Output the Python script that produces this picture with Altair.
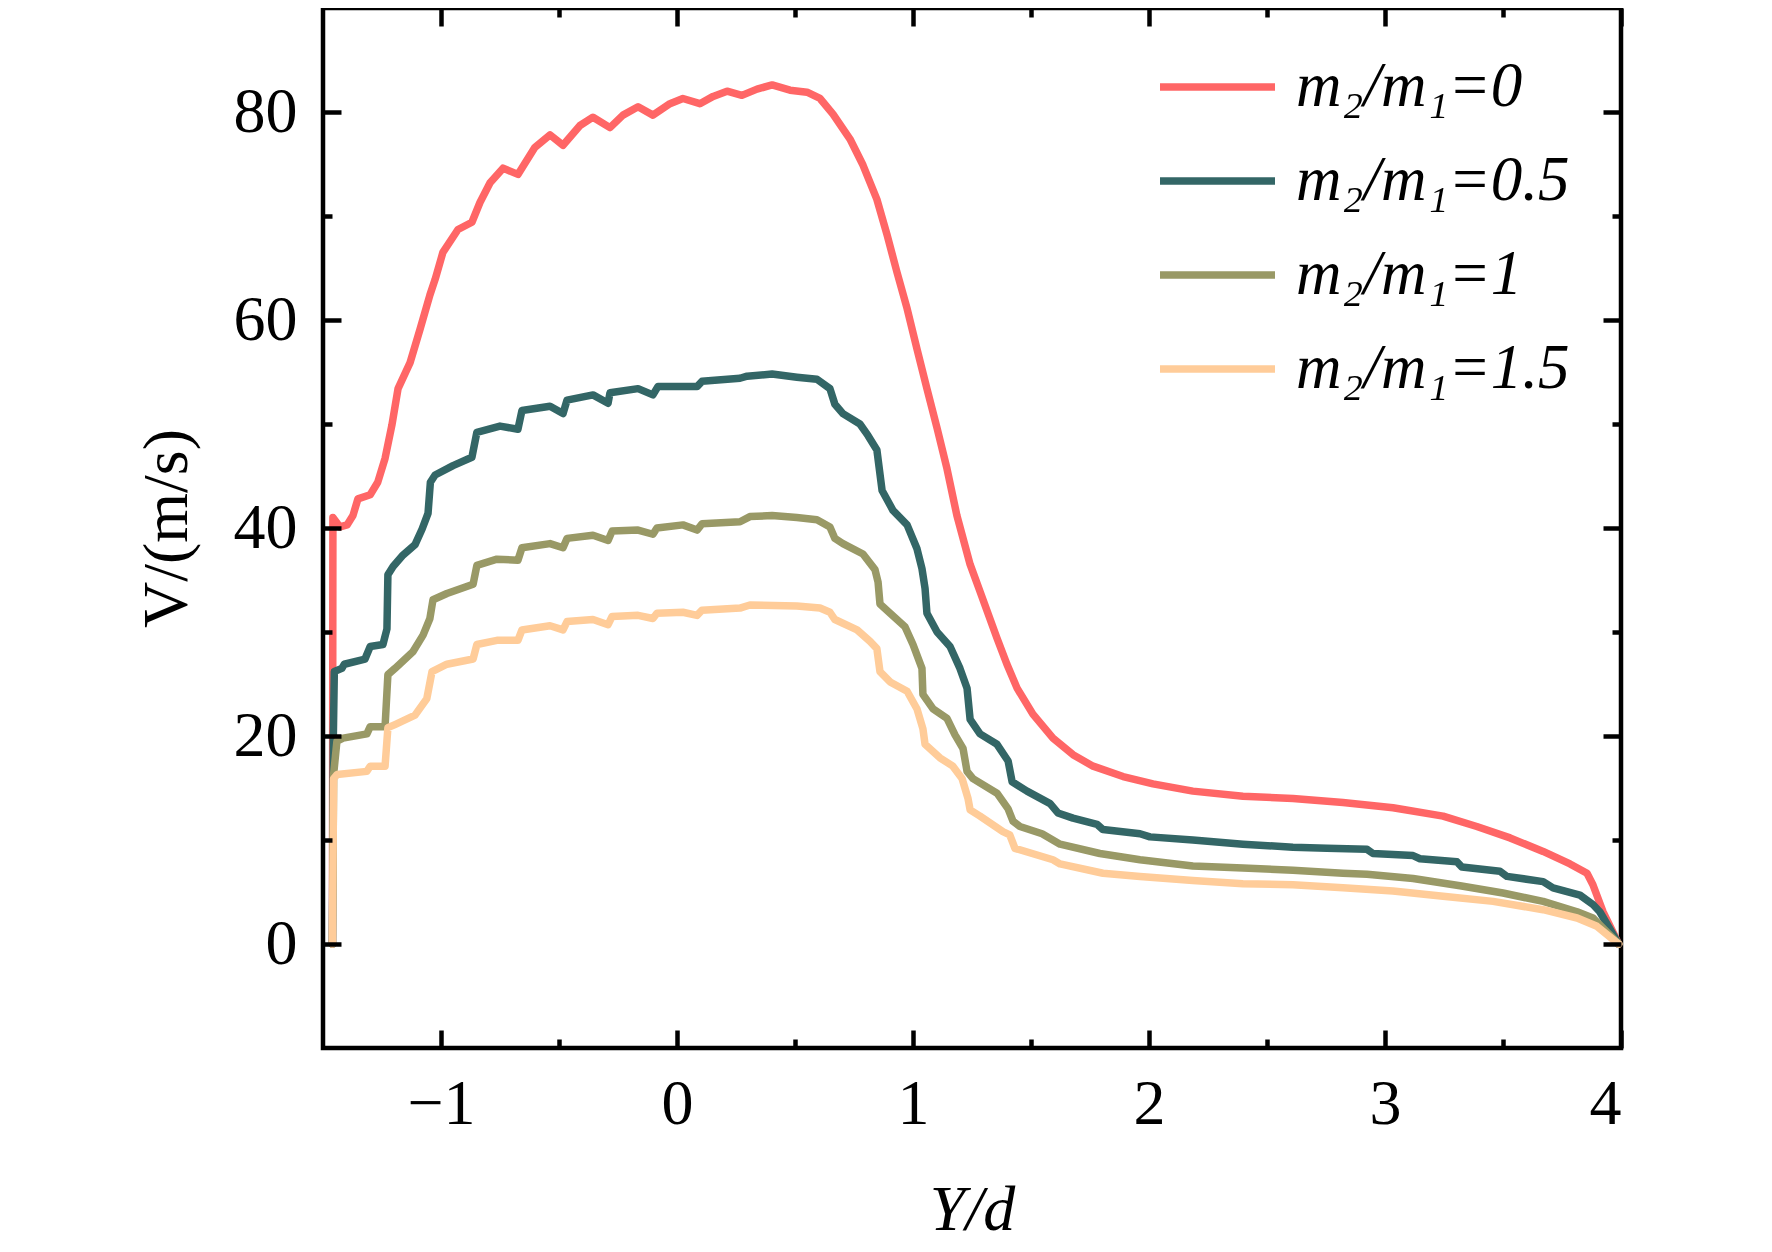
import altair as alt
import pandas as pd

series_names = ["m₂/m₁=0", "m₂/m₁=0.5", "m₂/m₁=1", "m₂/m₁=1.5"]
series_colors = ["#FF6666", "#336666", "#999966", "#FFCC99"]

red_x = [-1.46, -1.458, -1.428, -1.398, -1.373, -1.352, -1.30, -1.268, -1.237, -1.208, -1.182, -1.131, -1.089,
         -1.047, -1.025, -0.992, -0.928, -0.869, -0.835, -0.792, -0.737, -0.674, -0.602, -0.538, -0.483, -0.411,
         -0.356, -0.284, -0.229, -0.165, -0.102, -0.030, 0.025, 0.097, 0.153, 0.212, 0.275, 0.339, 0.403, 0.479,
         0.551, 0.606, 0.661, 0.733, 0.788, 0.847, 0.890, 0.932, 0.975, 1.017, 1.059, 1.102, 1.144, 1.186, 1.242,
         1.284, 1.356, 1.398, 1.441, 1.508, 1.593, 1.678, 1.763, 1.89, 2.017, 2.186, 2.398, 2.61, 2.822, 3.034,
         3.246, 3.389, 3.53, 3.67, 3.784, 3.856, 3.881, 3.924, 3.99]
red_y = [0.0, 41.0, 40.1, 40.3, 41.2, 42.8, 43.2, 44.4, 46.7, 49.9, 53.4, 55.9, 59.1,
         62.4, 63.9, 66.5, 68.7, 69.4, 71.3, 73.2, 74.6, 74.0, 76.6, 77.8, 76.8, 78.7,
         79.5, 78.5, 79.7, 80.5, 79.7, 80.8, 81.3, 80.8, 81.5, 82.0, 81.6, 82.2, 82.6, 82.1,
         81.9, 81.3, 79.8, 77.4, 74.9, 71.6, 68.2, 64.6, 61.1, 57.2, 53.4, 49.6, 45.7, 41.2, 36.5,
         33.9, 29.4, 26.9, 24.6, 22.1, 19.8, 18.2, 17.1, 16.1, 15.4, 14.7, 14.2, 14.0, 13.6, 13.1,
         12.3, 11.3, 10.2, 8.9, 7.7, 6.8, 5.7, 3.1, 0.0]

teal_x = [-1.46, -1.456, -1.452, -1.42, -1.41, -1.322, -1.30, -1.246, -1.229, -1.225, -1.203, -1.161, -1.11,
          -1.08, -1.055, -1.045, -1.025, -0.949, -0.869, -0.848, -0.750, -0.674, -0.657, -0.538, -0.483, -0.466,
          -0.356, -0.292, -0.284, -0.165, -0.102, -0.081, 0.085, 0.106, 0.267, 0.297, 0.403, 0.508, 0.593, 0.648,
          0.669, 0.703, 0.775, 0.809, 0.847, 0.869, 0.915, 0.975, 1.017, 1.038, 1.051, 1.059, 1.102, 1.157, 1.199,
          1.229, 1.242, 1.284, 1.356, 1.403, 1.42, 1.483, 1.581, 1.614, 1.678, 1.78, 1.805, 1.962, 2.004, 2.186,
          2.398, 2.61, 2.754, 2.924, 2.949, 3.119, 3.148, 3.305, 3.326, 3.487, 3.517, 3.67, 3.712, 3.826, 3.881,
          3.91, 3.99]
teal_y = [0.0, 20.2, 26.2, 26.5, 26.9, 27.4, 28.6, 28.8, 30.3, 35.5, 36.3, 37.4, 38.4,
          39.9, 41.4, 44.4, 45.1, 46.0, 46.8, 49.2, 49.8, 49.5, 51.3, 51.7, 51.0, 52.3,
          52.8, 52.0, 53.0, 53.4, 52.8, 53.6, 53.6, 54.1, 54.4, 54.6, 54.8, 54.5, 54.3, 53.4,
          51.9, 51.0, 50.0, 48.9, 47.5, 43.6, 41.7, 40.3, 38.0, 36.1, 34.2, 31.8, 30.0, 28.6, 26.5,
          24.6, 21.6, 20.2, 19.2, 17.6, 15.6, 14.7, 13.5, 12.6, 12.1, 11.5, 11.0, 10.6, 10.3, 10.0,
          9.6, 9.3, 9.2, 9.1, 8.7, 8.5, 8.2, 7.9, 7.4, 7.0, 6.5, 6.0, 5.4, 4.7, 3.8,
          3.1, 0.0]

olive_x = [-1.46, -1.455, -1.441, -1.415, -1.314, -1.30, -1.237, -1.225, -1.195, -1.119, -1.076, -1.047, -1.034,
           -0.975, -0.864, -0.848, -0.763, -0.674, -0.657, -0.538, -0.483, -0.466, -0.356, -0.292, -0.275, -0.165,
           -0.102, -0.085, 0.025, 0.085, 0.106, 0.267, 0.309, 0.403, 0.508, 0.593, 0.648, 0.669, 0.703, 0.788,
           0.839, 0.852, 0.86, 0.903, 0.966, 1.0, 1.038, 1.042, 1.085, 1.144, 1.178, 1.212, 1.229, 1.254, 1.356,
           1.403, 1.424, 1.453, 1.547, 1.623, 1.792, 1.962, 2.186, 2.398, 2.61, 2.822, 2.924, 3.119, 3.318, 3.5,
           3.67, 3.814, 3.881, 3.99]
olive_y = [0.0, 16.3, 19.5, 19.8, 20.2, 20.9, 20.9, 25.9, 26.5, 28.1, 29.7, 31.3, 33.1,
           33.7, 34.6, 36.4, 37.0, 36.9, 38.1, 38.5, 38.1, 39.0, 39.3, 38.8, 39.7, 39.8,
           39.4, 40.0, 40.3, 39.8, 40.4, 40.6, 41.1, 41.2, 41.0, 40.8, 40.1, 39.0, 38.5, 37.5,
           36.0, 34.8, 32.7, 31.8, 30.5, 28.8, 26.5, 24.0, 22.6, 21.7, 20.1, 18.8, 16.6, 15.9, 14.5,
           13.0, 11.8, 11.3, 10.6, 9.6, 8.7, 8.1, 7.5, 7.3, 7.1, 6.8, 6.7, 6.3, 5.6, 4.9,
           4.1, 3.1, 2.5, 0.0]

peach_x = [-1.46, -1.455, -1.44, -1.314, -1.30, -1.237, -1.225, -1.195, -1.11, -1.06, -1.038, -0.975, -0.864,
           -0.848, -0.763, -0.674, -0.657, -0.538, -0.483, -0.466, -0.356, -0.292, -0.275, -0.165, -0.102, -0.085,
           0.025, 0.085, 0.106, 0.267, 0.309, 0.508, 0.606, 0.648, 0.669, 0.763, 0.818, 0.847, 0.86, 0.903,
           0.975, 1.017, 1.042, 1.051, 1.114, 1.169, 1.208, 1.233, 1.242, 1.284, 1.381, 1.41, 1.432, 1.593,
           1.623, 1.805, 1.962, 2.186, 2.398, 2.61, 2.822, 3.034, 3.246, 3.458, 3.67, 3.814, 3.898, 3.99]
peach_y = [0.0, 15.9, 16.3, 16.6, 17.1, 17.1, 20.8, 21.1, 22.0, 23.6, 26.2, 26.9, 27.4,
           28.8, 29.2, 29.2, 30.2, 30.6, 30.2, 31.0, 31.2, 30.7, 31.5, 31.6, 31.3, 31.8,
           31.9, 31.6, 32.1, 32.3, 32.6, 32.5, 32.3, 31.9, 31.2, 30.2, 29.1, 28.4, 26.2, 25.2,
           24.3, 22.6, 20.7, 19.2, 17.9, 17.1, 15.9, 14.0, 12.9, 12.3, 10.8, 10.5, 9.2, 8.1,
           7.7, 6.8, 6.5, 6.1, 5.8, 5.7, 5.4, 5.1, 4.6, 4.1, 3.3, 2.5, 1.7, 0.0]

x_major = [-1, 0, 1, 2, 3, 4]
x_minor = [-0.5, 0.5, 1.5, 2.5, 3.5]
y_major = [0, 20, 40, 60, 80]
y_minor = [10, 30, 50, 70]

rows = []
for name, xs_, ys_ in zip(series_names, [red_x, teal_x, olive_x, peach_x], [red_y, teal_y, olive_y, peach_y]):
    for i, (a, b) in enumerate(zip(xs_, ys_)):
        rows.append({"series": name, "x": a, "y": b, "i": i})
df = pd.DataFrame(rows)

W, H = 1298, 1040
FONT = "Liberation Serif"
xscale = alt.Scale(domain=[-1.5, 4], nice=False, zero=False)
yscale = alt.Scale(domain=[-10, 90], nice=False, zero=False)

main = alt.Chart(df).mark_line(strokeWidth=7.5, strokeJoin="round", strokeCap="round").encode(
    x=alt.X("x:Q", scale=xscale, title="Y/d",
            axis=alt.Axis(orient="bottom", values=x_major, format="d", ticks=False, tickSize=0, domain=False,
                          grid=False, labelFont=FONT, labelFontSize=64, labelColor="black", labelPadding=24,
                          titleFont=FONT, titleFontSize=64, titleFontStyle="italic", titleFontWeight="normal",
                          titleColor="black", titlePadding=42)),
    y=alt.Y("y:Q", scale=yscale, title="V/(m/s)",
            axis=alt.Axis(orient="left", values=y_major, format="d", ticks=False, tickSize=0, domain=False,
                          grid=False, labelFont=FONT, labelFontSize=64, labelColor="black", labelPadding=26,
                          titleFont=FONT, titleFontSize=64, titleFontWeight="normal",
                          titleColor="black", titlePadding=34)),
    color=alt.Color("series:N", scale=alt.Scale(domain=series_names, range=series_colors), title="",
                    legend=alt.Legend(orient="none", legendX=833, legendY=44, symbolType="stroke",
                                      symbolSize=13225, symbolStrokeWidth=7.5, labelFont=FONT,
                                      labelFontSize=63, labelFontStyle="italic", labelColor="black",
                                      labelOffset=17, clipHeight=70, rowPadding=24, padding=0,
                                      labelLimit=800)),
    order=alt.Order("i:Q"),
)


def tick_layer(x_orient, x_off, y_orient, y_off, xv, yv, size):
    return alt.Chart(df).mark_point(opacity=0).encode(
        x=alt.X("x:Q", scale=xscale, title="",
                axis=alt.Axis(orient=x_orient, offset=x_off, values=xv, labels=False, domain=False,
                              grid=False, ticks=True, tickSize=size, tickWidth=4.5, tickColor="black",
                              zindex=1)),
        y=alt.Y("y:Q", scale=yscale, title="",
                axis=alt.Axis(orient=y_orient, offset=y_off, values=yv, labels=False, domain=False,
                              grid=False, ticks=True, tickSize=size, tickWidth=4.5, tickColor="black",
                              zindex=1)),
    )


t1 = tick_layer("top", -H, "right", -W, x_major, y_major, 18)
t2 = tick_layer("top", -H, "right", -W, x_minor, y_minor, 9)
t3 = tick_layer("bottom", -H, "left", -W, x_major, y_major, 18)
t4 = tick_layer("bottom", -H, "left", -W, x_minor, y_minor, 9)

chart = alt.layer(main, t1, t2, t3, t4).resolve_axis(
    x="independent", y="independent"
).properties(
    width=W, height=H,
    background="white",
    autosize=alt.AutoSizeParams(type="none"),
    padding={"left": 315, "top": 0, "right": 143, "bottom": 196},
).configure_view(
    stroke="black", strokeWidth=4.5
)

chart.save("out.html", embed_options={"renderer": "svg", "actions": False})
